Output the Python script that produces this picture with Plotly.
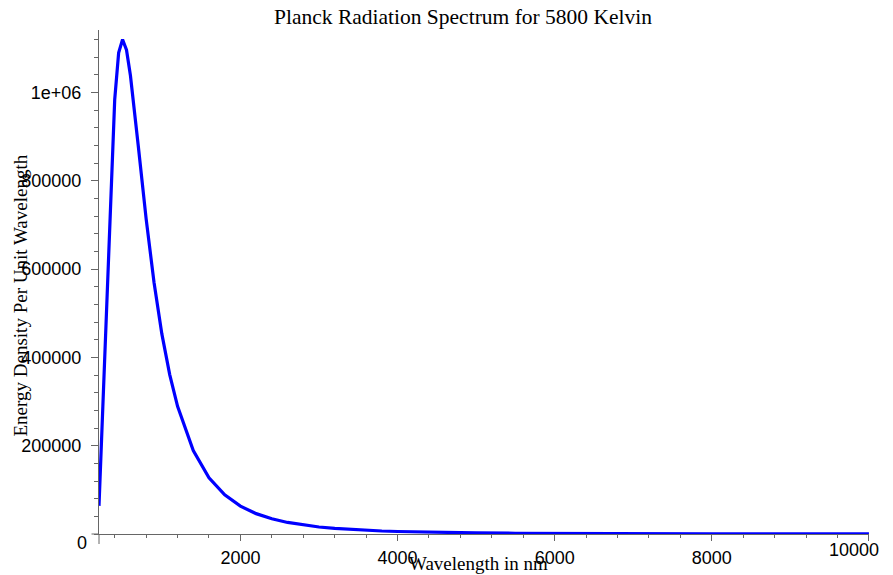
import plotly.graph_objects as go

# Wavelength samples (nm) and energy density
wavelength_nm = [200, 300, 400, 450, 500, 550, 600, 700, 800, 900, 1000,
                 1100, 1200, 1400, 1600, 1800, 2000, 2200, 2400, 2600, 2800,
                 3000, 3200, 3400, 3600, 3800, 4000, 4200, 4400, 4600, 4800,
                 5000, 5500, 6000, 6500, 7000, 8000, 9000, 10000]
energy_density = [63800, 523700, 983900, 1089800, 1120000, 1096400, 1038500,
                  878900, 713900, 570100, 453300, 361000, 289000, 189000,
                  127450, 88510, 63130, 46120, 34410, 26170, 20230, 15880,
                  12630, 10170, 8275, 6802, 5640, 4717, 3974, 3371, 2879,
                  2472, 1730, 1247, 920, 694, 417, 265, 176]

x_tick_vals = [2000, 4000, 6000, 8000, 10000]
x_tick_text = ["2000", "4000", "6000", "8000", ""]
x_last_label = "10000"
y_tick_vals = [200000, 400000, 600000, 800000, 1000000]
y_tick_text = ["200000", "400000", "600000", "800000", "1e+06"]
y_zero_label = "0"

title_text = "Planck Radiation Spectrum for 5800 Kelvin"
x_title = "Wavelength in nm"
y_title = "Energy Density Per Unit Wavelength"

AX = "#666666"
SANS = "Liberation Sans, Arial, sans-serif"
SERIF = "Liberation Serif, Times New Roman, serif"

W, H = 893, 575
L, R, T, B = 99, 24, 30, 41
pw, ph = W - L - R, H - T - B

def px(xp):
    return (xp - L) / pw

def py(yp):
    return (H - B - yp) / ph

fig = go.Figure()
fig.add_trace(go.Scatter(x=wavelength_nm, y=energy_density, mode="lines",
                         line=dict(color="#0000ff", width=3.2),
                         showlegend=False, hoverinfo="skip"))

fig.update_layout(
    width=W, height=H,
    margin=dict(l=L, r=R, t=T, b=B, pad=0, autoexpand=False),
    paper_bgcolor="white", plot_bgcolor="white",
    showlegend=False,
    xaxis=dict(range=[200, 10000.5], showgrid=False, zeroline=False,
               automargin=False,
               showline=True, linecolor=AX, linewidth=1,
               tickmode="array", tickvals=x_tick_vals, ticktext=x_tick_text,
               ticks="outside", ticklen=6, tickcolor=AX, tickwidth=1,
               minor=dict(ticks="outside", dtick=400, tick0=0, ticklen=3,
                          tickcolor=AX, showgrid=False),
               tickfont=dict(family=SANS, size=18, color="black"),
               ticklabelstandoff=1),
    yaxis=dict(range=[0, 1141560], showgrid=False, zeroline=False,
               automargin=False,
               showline=True, linecolor=AX, linewidth=1,
               tickmode="array", tickvals=y_tick_vals, ticktext=y_tick_text,
               ticks="outside", ticklen=7, tickcolor=AX, tickwidth=1,
               minor=dict(ticks="outside", dtick=40000, tick0=0, ticklen=4,
                          tickcolor=AX, showgrid=False),
               tickfont=dict(family=SANS, size=18, color="black"),
               ticklabelstandoff=6),
)

# axis overhangs as drawn in the original
fig.add_shape(type="line", xref="paper", yref="paper",
              x0=px(91.5), x1=0, y0=0, y1=0, line=dict(color=AX, width=1))
fig.add_shape(type="line", xref="paper", yref="paper",
              x0=0, x1=0, y0=py(544), y1=0, line=dict(color=AX, width=1))

fig.add_annotation(text=y_zero_label, xref="paper", yref="paper",
                   x=px(89), y=py(542.5), xanchor="right", yanchor="middle",
                   showarrow=False, font=dict(family=SANS, size=18, color="black"))
fig.add_annotation(text=x_last_label, xref="paper", yref="paper",
                   x=px(881), y=py(550), xanchor="right", yanchor="middle",
                   showarrow=False, font=dict(family=SANS, size=18, color="black"))
fig.add_annotation(text=title_text, xref="paper", yref="paper",
                   x=px(463), y=py(17), xanchor="center", yanchor="middle",
                   showarrow=False, font=dict(family=SERIF, size=21.5, color="black"))
fig.add_annotation(text=x_title, xref="paper", yref="paper",
                   x=px(478), y=py(563), xanchor="center", yanchor="middle",
                   showarrow=False, font=dict(family=SERIF, size=19, color="black"))
fig.add_annotation(text=y_title, xref="paper", yref="paper",
                   x=px(20), y=py(295.5), xanchor="center", yanchor="middle",
                   textangle=-90,
                   showarrow=False, font=dict(family=SERIF, size=19, color="black"))

fig.write_html("out.html")
